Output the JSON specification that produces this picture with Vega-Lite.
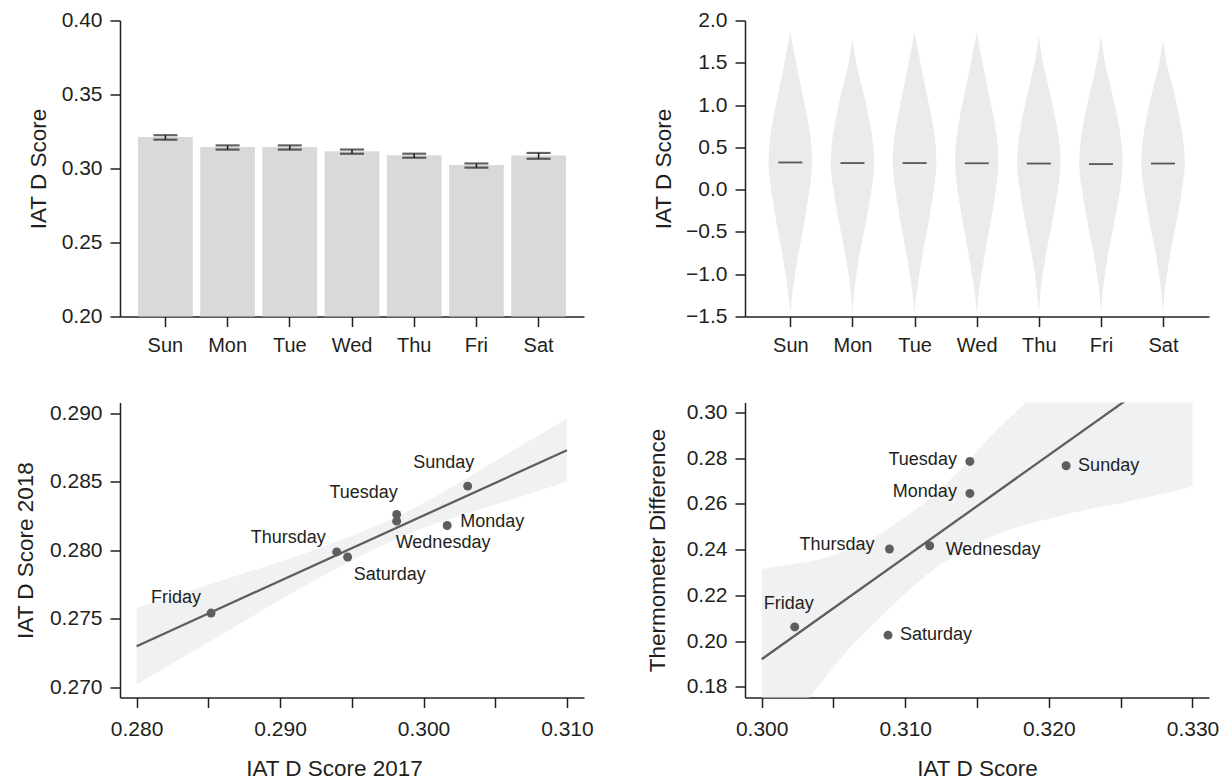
{
"$schema": "https://vega.github.io/schema/vega-lite/v6.json",
"background": "white",
"padding": {"left": 14, "top": 9.5, "right": 5, "bottom": 0},
"config": {
  "view": {"stroke": null},
  "font": "Liberation Sans",
  "axis": {"grid": false, "domainColor": "#231f20", "tickColor": "#231f20", "domainWidth": 1.5, "tickWidth": 1.5, "tickSize": 10, "labelColor": "#231f20", "titleColor": "#231f20", "labelFont": "Liberation Sans", "labelFontSize": 21, "titleFont": "Liberation Sans", "titleFontSize": 22.5, "titleFontWeight": "normal", "labelPadding": 8, "labelOverlap": false, "labelFlush": false},
  "axisX": {"labelPadding": 11},
  "text": {"font": "Liberation Sans", "fontSize": 18, "color": "#231f20", "baseline": "middle"}
},
"datasets": {
  "days": [
    {"day": "Sun", "name": "Sunday", "i": 0, "iat": 0.3212, "lo": 0.3195, "hi": 0.3225, "x17": 0.30308, "y18": 0.2847, "th": 0.2767},
    {"day": "Mon", "name": "Monday", "i": 1, "iat": 0.3145, "lo": 0.3128, "hi": 0.3156, "x17": 0.30165, "y18": 0.28182, "th": 0.2646},
    {"day": "Tue", "name": "Tuesday", "i": 2, "iat": 0.3145, "lo": 0.3128, "hi": 0.3156, "x17": 0.29813, "y18": 0.28263, "th": 0.2786},
    {"day": "Wed", "name": "Wednesday", "i": 3, "iat": 0.3117, "lo": 0.3100, "hi": 0.3128, "x17": 0.29813, "y18": 0.28214, "th": 0.2417},
    {"day": "Thu", "name": "Thursday", "i": 4, "iat": 0.3089, "lo": 0.3073, "hi": 0.3100, "x17": 0.29395, "y18": 0.27989, "th": 0.2403},
    {"day": "Fri", "name": "Friday", "i": 5, "iat": 0.3023, "lo": 0.3006, "hi": 0.3034, "x17": 0.28519, "y18": 0.27542, "th": 0.2062},
    {"day": "Sat", "name": "Saturday", "i": 6, "iat": 0.3088, "lo": 0.3066, "hi": 0.3105, "x17": 0.29471, "y18": 0.27952, "th": 0.2026}
  ],
  "violin": [
    {"d":"Sun","v":-1.47,"l":0,"r":0},{"d":"Sun","v":-1.35,"l":-0.014,"r":0.014},{"d":"Sun","v":-1.2,"l":-0.037,"r":0.037},{"d":"Sun","v":-1.0,"l":-0.077,"r":0.077},{"d":"Sun","v":-0.8,"l":-0.121,"r":0.121},{"d":"Sun","v":-0.6,"l":-0.17,"r":0.17},{"d":"Sun","v":-0.4,"l":-0.222,"r":0.222},{"d":"Sun","v":-0.2,"l":-0.267,"r":0.267},{"d":"Sun","v":0,"l":-0.309,"r":0.309},{"d":"Sun","v":0.2,"l":-0.342,"r":0.342},{"d":"Sun","v":0.3,"l":-0.35,"r":0.35},{"d":"Sun","v":0.4,"l":-0.349,"r":0.349},{"d":"Sun","v":0.6,"l":-0.328,"r":0.328},{"d":"Sun","v":0.8,"l":-0.286,"r":0.286},{"d":"Sun","v":1.0,"l":-0.233,"r":0.233},{"d":"Sun","v":1.2,"l":-0.177,"r":0.177},{"d":"Sun","v":1.4,"l":-0.121,"r":0.121},{"d":"Sun","v":1.6,"l":-0.068,"r":0.068},{"d":"Sun","v":1.75,"l":-0.029,"r":0.029},{"d":"Sun","v":1.88,"l":0,"r":0},
    {"d":"Mon","v":-1.47,"l":1,"r":1},{"d":"Mon","v":-1.35,"l":0.989,"r":1.011},{"d":"Mon","v":-1.2,"l":0.971,"r":1.029},{"d":"Mon","v":-1.0,"l":0.936,"r":1.064},{"d":"Mon","v":-0.8,"l":0.894,"r":1.106},{"d":"Mon","v":-0.6,"l":0.842,"r":1.158},{"d":"Mon","v":-0.4,"l":0.788,"r":1.212},{"d":"Mon","v":-0.2,"l":0.738,"r":1.262},{"d":"Mon","v":0,"l":0.695,"r":1.305},{"d":"Mon","v":0.2,"l":0.659,"r":1.341},{"d":"Mon","v":0.3,"l":0.65,"r":1.35},{"d":"Mon","v":0.4,"l":0.653,"r":1.347},{"d":"Mon","v":0.6,"l":0.677,"r":1.323},{"d":"Mon","v":0.8,"l":0.723,"r":1.277},{"d":"Mon","v":1.0,"l":0.778,"r":1.222},{"d":"Mon","v":1.2,"l":0.839,"r":1.161},{"d":"Mon","v":1.4,"l":0.912,"r":1.088},{"d":"Mon","v":1.6,"l":0.965,"r":1.035},{"d":"Mon","v":1.7,"l":0.986,"r":1.014},{"d":"Mon","v":1.78,"l":1,"r":1},
    {"d":"Tue","v":-1.47,"l":2,"r":2},{"d":"Tue","v":-1.35,"l":1.986,"r":2.014},{"d":"Tue","v":-1.2,"l":1.963,"r":2.037},{"d":"Tue","v":-1.0,"l":1.923,"r":2.077},{"d":"Tue","v":-0.8,"l":1.879,"r":2.121},{"d":"Tue","v":-0.6,"l":1.83,"r":2.17},{"d":"Tue","v":-0.4,"l":1.778,"r":2.222},{"d":"Tue","v":-0.2,"l":1.733,"r":2.267},{"d":"Tue","v":0,"l":1.691,"r":2.309},{"d":"Tue","v":0.2,"l":1.658,"r":2.342},{"d":"Tue","v":0.3,"l":1.65,"r":2.35},{"d":"Tue","v":0.4,"l":1.651,"r":2.349},{"d":"Tue","v":0.6,"l":1.672,"r":2.328},{"d":"Tue","v":0.8,"l":1.714,"r":2.286},{"d":"Tue","v":1.0,"l":1.767,"r":2.233},{"d":"Tue","v":1.2,"l":1.823,"r":2.177},{"d":"Tue","v":1.4,"l":1.879,"r":2.121},{"d":"Tue","v":1.6,"l":1.932,"r":2.068},{"d":"Tue","v":1.75,"l":1.971,"r":2.029},{"d":"Tue","v":1.86,"l":2,"r":2},
    {"d":"Wed","v":-1.47,"l":3,"r":3},{"d":"Wed","v":-1.35,"l":2.986,"r":3.014},{"d":"Wed","v":-1.2,"l":2.963,"r":3.037},{"d":"Wed","v":-1.0,"l":2.923,"r":3.077},{"d":"Wed","v":-0.8,"l":2.879,"r":3.121},{"d":"Wed","v":-0.6,"l":2.83,"r":3.17},{"d":"Wed","v":-0.4,"l":2.778,"r":3.222},{"d":"Wed","v":-0.2,"l":2.733,"r":3.267},{"d":"Wed","v":0,"l":2.691,"r":3.309},{"d":"Wed","v":0.2,"l":2.658,"r":3.342},{"d":"Wed","v":0.3,"l":2.65,"r":3.35},{"d":"Wed","v":0.4,"l":2.651,"r":3.349},{"d":"Wed","v":0.6,"l":2.672,"r":3.328},{"d":"Wed","v":0.8,"l":2.714,"r":3.286},{"d":"Wed","v":1.0,"l":2.767,"r":3.233},{"d":"Wed","v":1.2,"l":2.823,"r":3.177},{"d":"Wed","v":1.4,"l":2.879,"r":3.121},{"d":"Wed","v":1.6,"l":2.932,"r":3.068},{"d":"Wed","v":1.75,"l":2.971,"r":3.029},{"d":"Wed","v":1.86,"l":3,"r":3},
    {"d":"Thu","v":-1.47,"l":4,"r":4},{"d":"Thu","v":-1.35,"l":3.989,"r":4.011},{"d":"Thu","v":-1.2,"l":3.971,"r":4.029},{"d":"Thu","v":-1.0,"l":3.936,"r":4.064},{"d":"Thu","v":-0.8,"l":3.894,"r":4.106},{"d":"Thu","v":-0.6,"l":3.842,"r":4.158},{"d":"Thu","v":-0.4,"l":3.788,"r":4.212},{"d":"Thu","v":-0.2,"l":3.738,"r":4.262},{"d":"Thu","v":0,"l":3.695,"r":4.305},{"d":"Thu","v":0.2,"l":3.659,"r":4.341},{"d":"Thu","v":0.3,"l":3.65,"r":4.35},{"d":"Thu","v":0.4,"l":3.653,"r":4.347},{"d":"Thu","v":0.6,"l":3.677,"r":4.323},{"d":"Thu","v":0.8,"l":3.723,"r":4.277},{"d":"Thu","v":1.0,"l":3.778,"r":4.222},{"d":"Thu","v":1.2,"l":3.839,"r":4.161},{"d":"Thu","v":1.4,"l":3.904,"r":4.096},{"d":"Thu","v":1.6,"l":3.957,"r":4.043},{"d":"Thu","v":1.7,"l":3.977,"r":4.023},{"d":"Thu","v":1.82,"l":4,"r":4},
    {"d":"Fri","v":-1.47,"l":5,"r":5},{"d":"Fri","v":-1.35,"l":4.989,"r":5.011},{"d":"Fri","v":-1.2,"l":4.971,"r":5.029},{"d":"Fri","v":-1.0,"l":4.936,"r":5.064},{"d":"Fri","v":-0.8,"l":4.894,"r":5.106},{"d":"Fri","v":-0.6,"l":4.842,"r":5.158},{"d":"Fri","v":-0.4,"l":4.788,"r":5.212},{"d":"Fri","v":-0.2,"l":4.738,"r":5.262},{"d":"Fri","v":0,"l":4.695,"r":5.305},{"d":"Fri","v":0.2,"l":4.659,"r":5.341},{"d":"Fri","v":0.3,"l":4.65,"r":5.35},{"d":"Fri","v":0.4,"l":4.653,"r":5.347},{"d":"Fri","v":0.6,"l":4.677,"r":5.323},{"d":"Fri","v":0.8,"l":4.723,"r":5.277},{"d":"Fri","v":1.0,"l":4.778,"r":5.222},{"d":"Fri","v":1.2,"l":4.839,"r":5.161},{"d":"Fri","v":1.4,"l":4.904,"r":5.096},{"d":"Fri","v":1.6,"l":4.957,"r":5.043},{"d":"Fri","v":1.7,"l":4.977,"r":5.023},{"d":"Fri","v":1.82,"l":5,"r":5},
    {"d":"Sat","v":-1.47,"l":6,"r":6},{"d":"Sat","v":-1.35,"l":5.989,"r":6.011},{"d":"Sat","v":-1.2,"l":5.971,"r":6.029},{"d":"Sat","v":-1.0,"l":5.936,"r":6.064},{"d":"Sat","v":-0.8,"l":5.894,"r":6.106},{"d":"Sat","v":-0.6,"l":5.842,"r":6.158},{"d":"Sat","v":-0.4,"l":5.788,"r":6.212},{"d":"Sat","v":-0.2,"l":5.738,"r":6.262},{"d":"Sat","v":0,"l":5.695,"r":6.305},{"d":"Sat","v":0.2,"l":5.659,"r":6.341},{"d":"Sat","v":0.3,"l":5.65,"r":6.35},{"d":"Sat","v":0.4,"l":5.653,"r":6.347},{"d":"Sat","v":0.6,"l":5.677,"r":6.323},{"d":"Sat","v":0.8,"l":5.723,"r":6.277},{"d":"Sat","v":1.0,"l":5.778,"r":6.222},{"d":"Sat","v":1.2,"l":5.839,"r":6.161},{"d":"Sat","v":1.4,"l":5.912,"r":6.088},{"d":"Sat","v":1.6,"l":5.965,"r":6.035},{"d":"Sat","v":1.7,"l":5.986,"r":6.014},{"d":"Sat","v":1.78,"l":6,"r":6}
  ],
  "band1": [
    {"x":0.280,"lo":0.27020,"hi":0.27580},{"x":0.2825,"lo":0.27174,"hi":0.27664},{"x":0.285,"lo":0.27329,"hi":0.27749},{"x":0.2875,"lo":0.27483,"hi":0.27833},{"x":0.290,"lo":0.27637,"hi":0.27917},{"x":0.2925,"lo":0.27785,"hi":0.28009},{"x":0.295,"lo":0.27926,"hi":0.28106},{"x":0.2975,"lo":0.28055,"hi":0.28215},{"x":0.300,"lo":0.28165,"hi":0.28345},{"x":0.3025,"lo":0.28254,"hi":0.28494},{"x":0.305,"lo":0.28333,"hi":0.28653},{"x":0.3075,"lo":0.28418,"hi":0.28808},{"x":0.310,"lo":0.28502,"hi":0.28962}
  ],
  "band2": [
    {"x":0.300,"lo":0.1500,"hi":0.2315},{"x":0.302,"lo":0.1655,"hi":0.2335},{"x":0.304,"lo":0.1807,"hi":0.2358},{"x":0.306,"lo":0.1961,"hi":0.2400},{"x":0.308,"lo":0.2087,"hi":0.2460},{"x":0.310,"lo":0.2208,"hi":0.2543},{"x":0.312,"lo":0.2314,"hi":0.2640},{"x":0.314,"lo":0.2394,"hi":0.2760},{"x":0.316,"lo":0.2458,"hi":0.2900},{"x":0.318,"lo":0.2502,"hi":0.3020},{"x":0.320,"lo":0.2535,"hi":0.3140},{"x":0.3225,"lo":0.2573,"hi":0.3280},{"x":0.325,"lo":0.2603,"hi":0.3410},{"x":0.3275,"lo":0.2638,"hi":0.3540},{"x":0.330,"lo":0.2676,"hi":0.3670}
  ],
  "fit1": [{"x":0.280,"y":0.27300},{"x":0.310,"y":0.28732}],
  "fit2": [{"x":0.300,"y":0.19208},{"x":0.330,"y":0.32603}]
},
"columns": 2,
"spacing": {"row": 86, "column": 161},
"bounds": "flush",
"concat": [
  {
    "width": 464, "height": 296,
    "data": {"name": "days"},
    "layer": [
      {"mark": {"type": "bar", "color": "#d8d9db"},
       "encoding": {
         "x": {"field": "day", "type": "nominal", "sort": ["Sun","Mon","Tue","Wed","Thu","Fri","Sat"], "scale": {"paddingInner": 0.12, "paddingOuter": 0.29}, "title": null, "axis": {"labelFontSize": 20, "labelAngle": 0, "labelPadding": 9}},
         "y": {"field": "iat", "type": "quantitative", "scale": {"domain": [0.2, 0.4], "nice": false, "zero": false}, "title": "IAT D Score", "axis": {"values": [0.2, 0.25, 0.3, 0.35, 0.4], "format": ".2f", "titleX": -81.5, "titleBaseline": "middle"}},
         "y2": {"datum": 0.2}
       }},
      {"mark": {"type": "rule", "color": "#231f20", "strokeWidth": 1.6},
       "encoding": {
         "x": {"field": "day", "type": "nominal", "sort": ["Sun","Mon","Tue","Wed","Thu","Fri","Sat"], "title": null},
         "y": {"field": "lo", "type": "quantitative", "title": "IAT D Score"},
         "y2": {"field": "hi"}
       }},
      {"mark": {"type": "tick", "orient": "horizontal", "size": 24, "thickness": 2.2, "color": "#231f20"},
       "encoding": {
         "x": {"field": "day", "type": "nominal", "sort": ["Sun","Mon","Tue","Wed","Thu","Fri","Sat"], "title": null},
         "y": {"field": "lo", "type": "quantitative", "title": "IAT D Score"}
       }},
      {"mark": {"type": "tick", "orient": "horizontal", "size": 24, "thickness": 2.2, "color": "#231f20"},
       "encoding": {
         "x": {"field": "day", "type": "nominal", "sort": ["Sun","Mon","Tue","Wed","Thu","Fri","Sat"], "title": null},
         "y": {"field": "hi", "type": "quantitative", "title": "IAT D Score"}
       }}
    ]
  },
  {
    "width": 464, "height": 296,
    "layer": [
      {"data": {"name": "violin"},
       "mark": {"type": "area", "orient": "horizontal", "color": "#ebebec", "interpolate": "monotone"},
       "encoding": {
         "y": {"field": "v", "type": "quantitative", "scale": {"domain": [-1.5, 2.0], "nice": false, "zero": false}, "title": "IAT D Score", "axis": {"values": [-1.5, -1, -0.5, 0, 0.5, 1, 1.5, 2], "format": ".1f", "titleX": -82, "titleBaseline": "middle"}},
         "x": {"field": "l", "type": "quantitative", "scale": {"domain": [-0.73, 6.74], "nice": false, "zero": false}, "title": null, "axis": {"values": [0, 1, 2, 3, 4, 5, 6], "labelExpr": "['Sun','Mon','Tue','Wed','Thu','Fri','Sat'][datum.value]", "labelFontSize": 20, "labelPadding": 9}},
         "x2": {"field": "r"},
         "detail": {"field": "d"}
       }},
      {"data": {"name": "days"},
       "mark": {"type": "tick", "orient": "horizontal", "size": 24, "thickness": 1.8, "color": "#1a1a1a"},
       "encoding": {
         "x": {"field": "i", "type": "quantitative", "title": null},
         "y": {"field": "iat", "type": "quantitative", "title": "IAT D Score"}
       }}
    ]
  },
  {
    "width": 464, "height": 295,
    "data": {"name": "days"},
    "layer": [
      {"data": {"name": "band1"},
       "mark": {"type": "area", "color": "#f0f1f2", "interpolate": "monotone", "clip": true},
       "encoding": {
         "x": {"field": "x", "type": "quantitative", "scale": {"domain": [0.27884, 0.31119], "nice": false, "zero": false}, "title": "IAT D Score 2017", "axis": {"values": [0.28, 0.285, 0.29, 0.295, 0.3, 0.305, 0.31], "labelExpr": "abs(datum.value*100 - round(datum.value*100)) < 0.001 ? format(datum.value, '.3f') : ''", "titleX": 214, "titleY": 78, "titleBaseline": "alphabetic"}},
         "y": {"field": "lo", "type": "quantitative", "scale": {"domain": [0.26925, 0.29081], "nice": false, "zero": false}, "title": "IAT D Score 2018", "axis": {"values": [0.27, 0.275, 0.28, 0.285, 0.29], "format": ".3f", "titleX": -95, "titleBaseline": "middle"}},
         "y2": {"field": "hi"}
       }},
      {"data": {"name": "fit1"},
       "mark": {"type": "line", "color": "#5e5e61", "strokeWidth": 2.3, "clip": true},
       "encoding": {
         "x": {"field": "x", "type": "quantitative", "title": "IAT D Score 2017"},
         "y": {"field": "y", "type": "quantitative", "title": "IAT D Score 2018"}
       }},
      {"mark": {"type": "circle", "size": 80, "color": "#5e5e61", "opacity": 1},
       "encoding": {
         "x": {"field": "x17", "type": "quantitative", "title": "IAT D Score 2017"},
         "y": {"field": "y18", "type": "quantitative", "title": "IAT D Score 2018"}
       }},
      {"transform": [{"filter": "datum.name === 'Sunday'"}], "mark": {"type": "text", "align": "center", "dx": -24, "dy": -23},
       "encoding": {"x": {"field": "x17", "type": "quantitative", "title": "IAT D Score 2017"}, "y": {"field": "y18", "type": "quantitative", "title": "IAT D Score 2018"}, "text": {"field": "name"}}},
      {"transform": [{"filter": "datum.name === 'Tuesday'"}], "mark": {"type": "text", "align": "center", "dx": -33, "dy": -21},
       "encoding": {"x": {"field": "x17", "type": "quantitative", "title": "IAT D Score 2017"}, "y": {"field": "y18", "type": "quantitative", "title": "IAT D Score 2018"}, "text": {"field": "name"}}},
      {"transform": [{"filter": "datum.name === 'Thursday'"}], "mark": {"type": "text", "align": "right", "dx": -11, "dy": -14},
       "encoding": {"x": {"field": "x17", "type": "quantitative", "title": "IAT D Score 2017"}, "y": {"field": "y18", "type": "quantitative", "title": "IAT D Score 2018"}, "text": {"field": "name"}}},
      {"transform": [{"filter": "datum.name === 'Friday'"}], "mark": {"type": "text", "align": "center", "dx": -35, "dy": -15},
       "encoding": {"x": {"field": "x17", "type": "quantitative", "title": "IAT D Score 2017"}, "y": {"field": "y18", "type": "quantitative", "title": "IAT D Score 2018"}, "text": {"field": "name"}}},
      {"transform": [{"filter": "datum.name === 'Monday'"}], "mark": {"type": "text", "align": "left", "dx": 13, "dy": -4},
       "encoding": {"x": {"field": "x17", "type": "quantitative", "title": "IAT D Score 2017"}, "y": {"field": "y18", "type": "quantitative", "title": "IAT D Score 2018"}, "text": {"field": "name"}}},
      {"transform": [{"filter": "datum.name === 'Wednesday'"}], "mark": {"type": "text", "align": "left", "dx": -1, "dy": 22},
       "encoding": {"x": {"field": "x17", "type": "quantitative", "title": "IAT D Score 2017"}, "y": {"field": "y18", "type": "quantitative", "title": "IAT D Score 2018"}, "text": {"field": "name"}}},
      {"transform": [{"filter": "datum.name === 'Saturday'"}], "mark": {"type": "text", "align": "left", "dx": 6, "dy": 18},
       "encoding": {"x": {"field": "x17", "type": "quantitative", "title": "IAT D Score 2017"}, "y": {"field": "y18", "type": "quantitative", "title": "IAT D Score 2018"}, "text": {"field": "name"}}}
    ]
  },
  {
    "width": 464, "height": 295,
    "data": {"name": "days"},
    "layer": [
      {"data": {"name": "band2"},
       "mark": {"type": "area", "color": "#f0f1f2", "interpolate": "monotone", "clip": true},
       "encoding": {
         "x": {"field": "x", "type": "quantitative", "scale": {"domain": [0.29884, 0.33115], "nice": false, "zero": false}, "title": "IAT D Score", "axis": {"values": [0.3, 0.305, 0.31, 0.315, 0.32, 0.325, 0.33], "labelExpr": "abs(datum.value*100 - round(datum.value*100)) < 0.001 ? format(datum.value, '.3f') : ''", "titleY": 78, "titleBaseline": "alphabetic"}},
         "y": {"field": "lo", "type": "quantitative", "scale": {"domain": [0.17532, 0.30438], "nice": false, "zero": false}, "title": "Thermometer Difference", "axis": {"values": [0.18, 0.2, 0.22, 0.24, 0.26, 0.28, 0.3], "format": ".2f", "titleX": -88, "titleBaseline": "middle"}},
         "y2": {"field": "hi"}
       }},
      {"data": {"name": "fit2"},
       "mark": {"type": "line", "color": "#5e5e61", "strokeWidth": 2.3, "clip": true},
       "encoding": {
         "x": {"field": "x", "type": "quantitative", "title": "IAT D Score"},
         "y": {"field": "y", "type": "quantitative", "title": "Thermometer Difference"}
       }},
      {"mark": {"type": "circle", "size": 80, "color": "#5e5e61", "opacity": 1},
       "encoding": {
         "x": {"field": "iat", "type": "quantitative", "title": "IAT D Score"},
         "y": {"field": "th", "type": "quantitative", "title": "Thermometer Difference"}
       }},
      {"transform": [{"filter": "datum.name === 'Tuesday' || datum.name === 'Monday'"}], "mark": {"type": "text", "align": "right", "dx": -13, "dy": -1},
       "encoding": {"x": {"field": "iat", "type": "quantitative", "title": "IAT D Score"}, "y": {"field": "th", "type": "quantitative", "title": "Thermometer Difference"}, "text": {"field": "name"}}},
      {"transform": [{"filter": "datum.name === 'Thursday'"}], "mark": {"type": "text", "align": "right", "dx": -15, "dy": -4},
       "encoding": {"x": {"field": "iat", "type": "quantitative", "title": "IAT D Score"}, "y": {"field": "th", "type": "quantitative", "title": "Thermometer Difference"}, "text": {"field": "name"}}},
      {"transform": [{"filter": "datum.name === 'Wednesday'"}], "mark": {"type": "text", "align": "left", "dx": 16, "dy": 4},
       "encoding": {"x": {"field": "iat", "type": "quantitative", "title": "IAT D Score"}, "y": {"field": "th", "type": "quantitative", "title": "Thermometer Difference"}, "text": {"field": "name"}}},
      {"transform": [{"filter": "datum.name === 'Friday'"}], "mark": {"type": "text", "align": "center", "dx": -6, "dy": -23},
       "encoding": {"x": {"field": "iat", "type": "quantitative", "title": "IAT D Score"}, "y": {"field": "th", "type": "quantitative", "title": "Thermometer Difference"}, "text": {"field": "name"}}},
      {"transform": [{"filter": "datum.name === 'Saturday' || datum.name === 'Sunday'"}], "mark": {"type": "text", "align": "left", "dx": 12, "dy": 0},
       "encoding": {"x": {"field": "iat", "type": "quantitative", "title": "IAT D Score"}, "y": {"field": "th", "type": "quantitative", "title": "Thermometer Difference"}, "text": {"field": "name"}}}
    ]
  }
]
}
